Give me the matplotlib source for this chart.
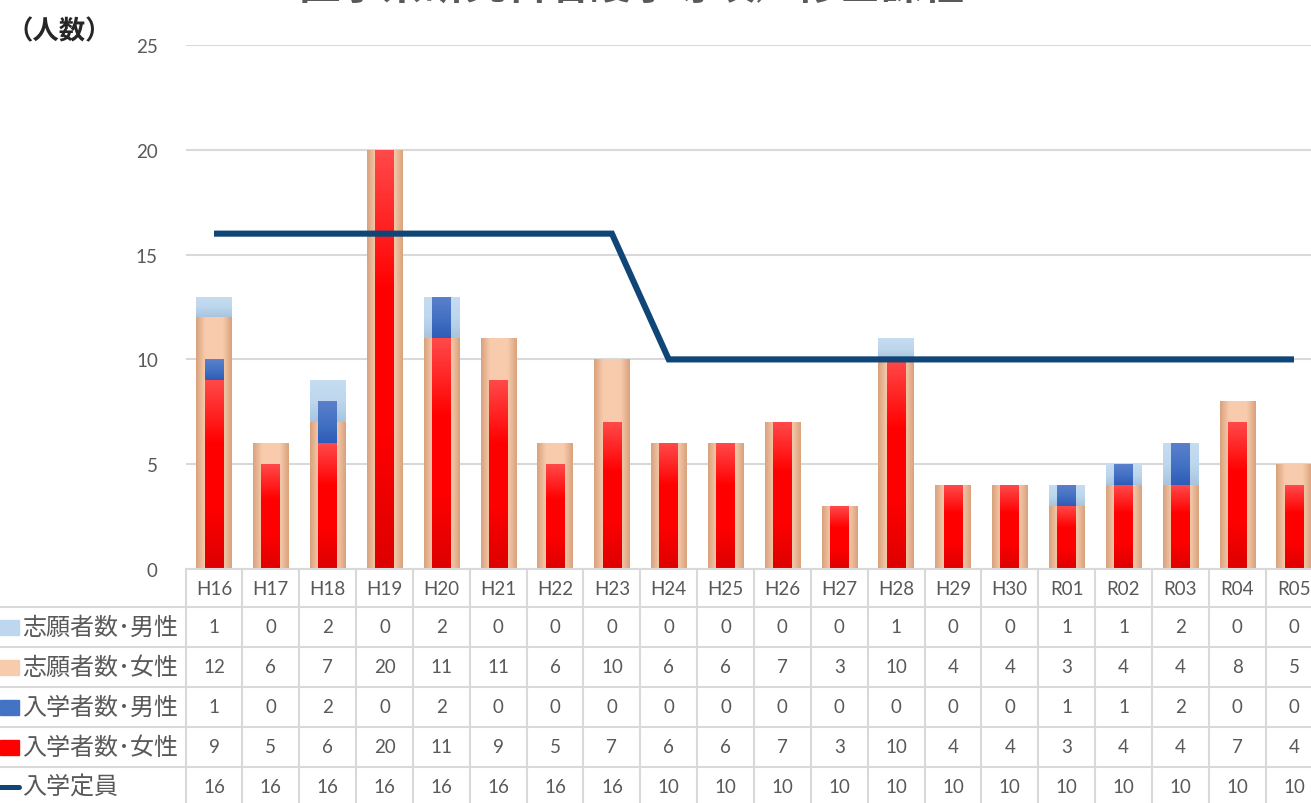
import numpy as np
import matplotlib
matplotlib.use("Agg")
import matplotlib.pyplot as plt
import matplotlib.transforms as mtransforms
from matplotlib.colors import LinearSegmentedColormap
from matplotlib.lines import Line2D
from matplotlib.patches import Rectangle

plt.rcParams['font.family'] = ['Lato', 'Noto Sans CJK JP', 'DejaVu Sans']

categories = ['H16', 'H17', 'H18', 'H19', 'H20', 'H21', 'H22', 'H23', 'H24', 'H25',
              'H26', 'H27', 'H28', 'H29', 'H30', 'R01', 'R02', 'R03', 'R04', 'R05']
app_male = [1, 0, 2, 0, 2, 0, 0, 0, 0, 0, 0, 0, 1, 0, 0, 1, 1, 2, 0, 0]
app_female = [12, 6, 7, 20, 11, 11, 6, 10, 6, 6, 7, 3, 10, 4, 4, 3, 4, 4, 8, 5]
enr_male = [1, 0, 2, 0, 2, 0, 0, 0, 0, 0, 0, 0, 0, 0, 0, 1, 1, 2, 0, 0]
enr_female = [9, 5, 6, 20, 11, 9, 5, 7, 6, 6, 7, 3, 10, 4, 4, 3, 4, 4, 7, 4]
capacity = [16, 16, 16, 16, 16, 16, 16, 16, 10, 10, 10, 10, 10, 10, 10, 10, 10, 10, 10, 10]

series_names = ['志願者数･男性', '志願者数･女性', '入学者数･男性', '入学者数･女性', '入学定員']
title = '医学系研究科看護学専攻／修士課程'

W, H = 1311, 804
fig = plt.figure(figsize=(W / 100, H / 100), dpi=100)
fig.patch.set_facecolor('white')

# axes geometry in pixels
left_px, right_px = 185.6, 1322.4
top_px, bottom_px = 46, 570
ax = fig.add_axes([left_px / W, (H - bottom_px) / H,
                   (right_px - left_px) / W, (bottom_px - top_px) / H])

x = np.arange(len(categories))
wide, narrow = 0.62, 0.33

am = np.array(app_male); af = np.array(app_female)
em = np.array(enr_male); ef = np.array(enr_female)

b_af = ax.bar(x, af, wide, color='#F8CBAD', zorder=2, linewidth=0)
b_am = ax.bar(x, am, wide, bottom=af, color='#BDD7EE', zorder=2, linewidth=0)
b_ef = ax.bar(x, ef, narrow, color='#FF0000', zorder=3, linewidth=0)
b_em = ax.bar(x, em, narrow, bottom=ef, color='#4472C4', zorder=3, linewidth=0)

def grad_fill(container, colors, z, horizontal=False):
    cmap = LinearSegmentedColormap.from_list('g', colors)
    for p in container:
        bx, by = p.get_x(), p.get_y()
        bw, bh = p.get_width(), p.get_height()
        if bh <= 0:
            continue
        if horizontal:
            g = np.linspace(0, 1, 64).reshape(1, -1)
        else:
            g = np.linspace(0, 1, 64).reshape(-1, 1)
        im = ax.imshow(g, extent=[bx, bx + bw, by, by + bh], origin='lower',
                       aspect='auto', cmap=cmap, zorder=z, interpolation='bilinear')
        im.set_clip_path(p)

grad_fill(b_ef, ['#DD0000', '#FF0000', '#FF0000', '#FF4848'], 3.1)
grad_fill(b_em, ['#2E5CB8', '#4472C4', '#5B80CC'], 3.1)
grad_fill(b_af, ['#D9A27D', '#F8CBAD', '#F8CBAD', '#F8CBAD', '#D9A27D'], 2.1, horizontal=True)
grad_fill(b_am, ['#A9C4DE', '#BDD7EE', '#C6DCF0'], 2.1)

ax.plot(x, capacity, color='#0F4577', lw=4.4, zorder=5,
        solid_joinstyle='miter', solid_capstyle='butt')

ax.set_xlim(-0.5, 19.5)
ax.set_ylim(0, 25)
ax.set_yticks([0, 5, 10, 15, 20, 25])
ax.set_xticks([])
ax.yaxis.grid(True, color='#D9D9D9', lw=1.5, zorder=0)
ax.set_axisbelow(True)
for s in ax.spines.values():
    s.set_visible(False)
ax.tick_params(axis='y', length=0, pad=20, labelsize=13.5, labelcolor='#595959')
for lab in ax.get_yticklabels():
    lab.set_fontfamily(['Lato'])

# x axis line
fig.add_artist(Line2D([left_px / W, 1], [(H - bottom_px) / H] * 2,
                      color='#D9D9D9', lw=1.5, transform=fig.transFigure))

# data table
tr = mtransforms.blended_transform_factory(ax.transData, fig.transFigure)
def fy(py):
    return (H - py) / H

line_c = '#D9D9D9'
for k in range(len(categories) + 1):
    xb = k - 0.5
    fig.add_artist(Line2D([xb, xb], [fy(571), fy(804)], color=line_c, lw=1.5,
                          transform=tr, clip_on=False))
for py in [608, 648, 688, 728, 768]:
    fig.add_artist(Line2D([0, 1], [fy(py), fy(py)], color=line_c, lw=1.5,
                          transform=fig.transFigure))

row_y = [628, 668, 708, 748, 788]
row_vals = [app_male, app_female, enr_male, enr_female, capacity]
for i, c in enumerate(categories):
    ax.text(i, fy(590), c, transform=tr, ha='center', va='center',
            fontsize=13.5, color='#595959', family=['Lato'], clip_on=False)
    for ry, vals in zip(row_y, row_vals):
        ax.text(i, fy(ry), str(vals[i]), transform=tr, ha='center', va='center',
                fontsize=13.5, color='#595959', family=['Lato'], clip_on=False)

# legend keys and labels
key_colors = ['#BDD7EE', '#F8CBAD', '#4472C4', '#FF0000']
for ry, name, kc in zip(row_y[:4], series_names[:4], key_colors):
    fig.add_artist(Rectangle((0, fy(ry + 7.5)), 19 / W, 15 / H, color=kc,
                             transform=fig.transFigure))
fig.add_artist(Line2D([0, 19 / W], [fy(788), fy(788)], color='#0F4577', lw=3.6,
                      solid_capstyle='round', transform=fig.transFigure))
for ry, name in zip(row_y, series_names):
    fig.text(22 / W, fy(ry), name, ha='left', va='center', fontsize=17.3,
             color='#595959', family=['Noto Sans CJK JP'])

# y axis unit label
fig.text(6 / W, fy(32), '（人数）', ha='left', va='center', fontsize=19,
         color='#262626', family=['Noto Sans CJK JP'], fontweight='bold')

# title (mostly cut off at top of the image, as in the reference)
fig.text(632 / W, fy(0), title, ha='center', va='baseline', fontsize=30,
         color='#595959', family=['Noto Sans CJK JP'], fontweight='bold')

fig.savefig('out.png', dpi=100, facecolor='white')
